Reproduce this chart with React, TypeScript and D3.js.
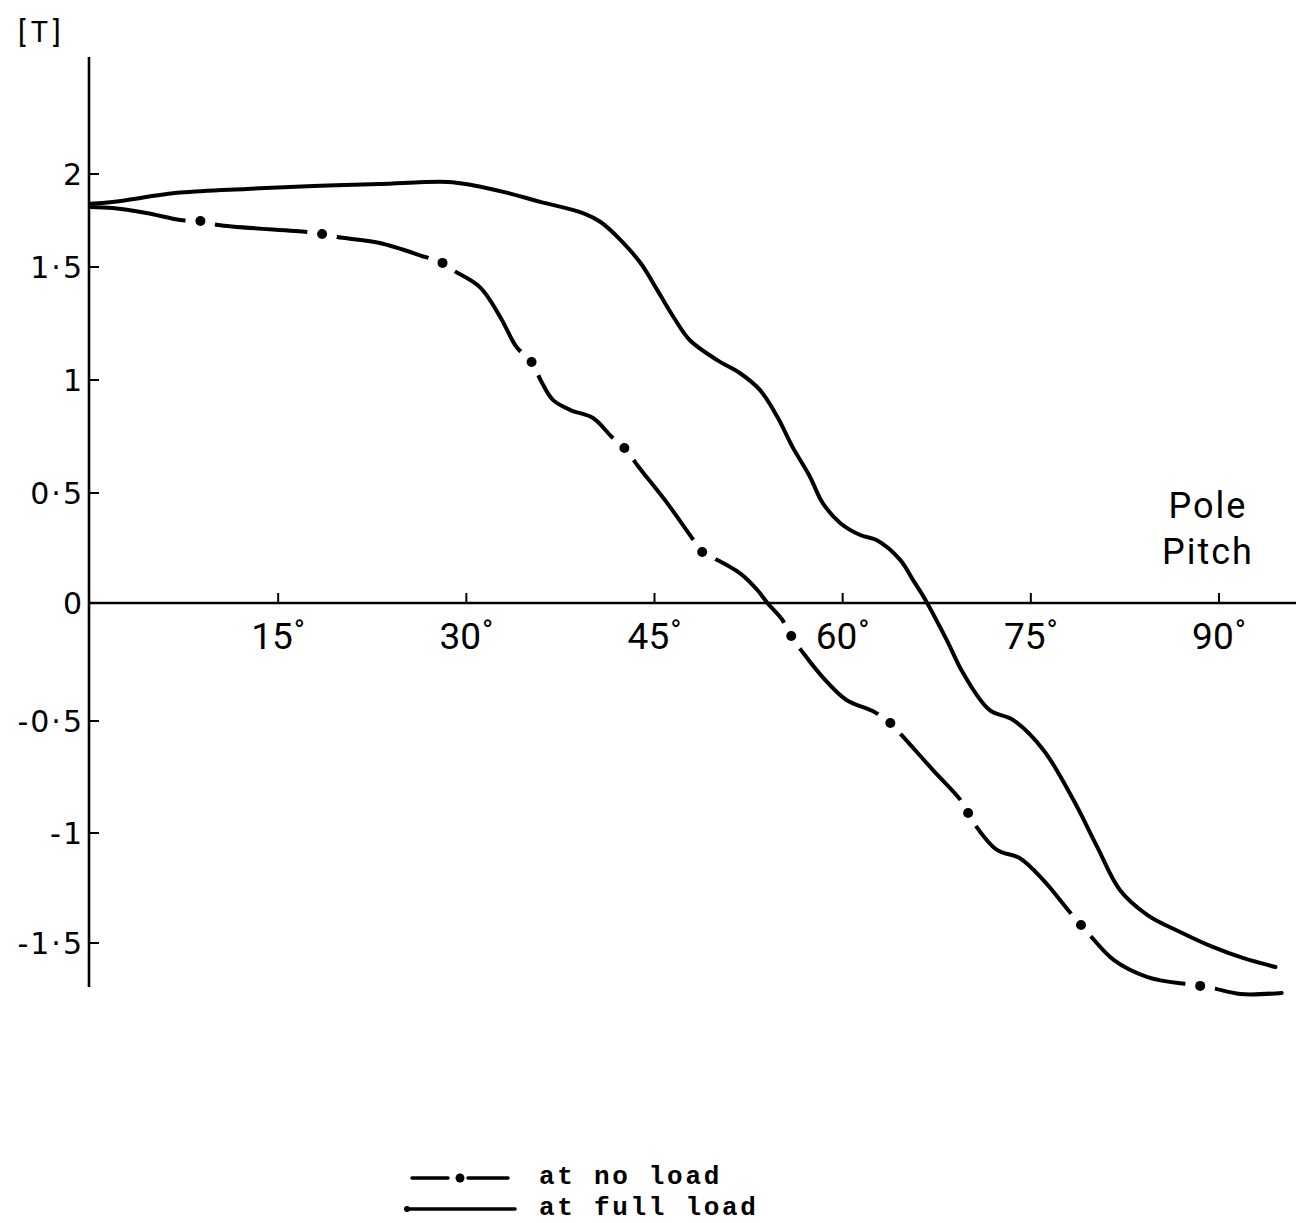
import React, { useEffect, useRef } from "react";
import * as d3 from "d3";

// flux density [T] along the pole pitch [deg]
const fullLoadDeg = [0, 1.8, 7.2, 12.5, 17.8, 23.1, 28.5, 30.5, 33.2, 35.9, 39.3, 40.7, 42.3, 43.9, 45.2, 46.5, 47.8, 50.0, 51.8, 53.4, 54.8, 56.0, 57.4, 58.4, 59.8, 61.4, 62.7, 64.6, 65.6, 66.6, 68.3, 69.6, 71.7, 73.6, 76.0, 78.4, 80.3, 82.1, 84.3, 86.9, 89.5, 91.9, 94.5];
const fullLoadT = [1.84, 1.85, 1.9, 1.92, 1.935, 1.946, 1.957, 1.94, 1.9, 1.85, 1.79, 1.742, 1.645, 1.52, 1.4, 1.28, 1.177, 1.088, 1.031, 0.956, 0.836, 0.704, 0.571, 0.455, 0.364, 0.309, 0.286, 0.195, 0.105, 0.014, -0.157, -0.297, -0.453, -0.496, -0.629, -0.853, -1.064, -1.259, -1.373, -1.45, -1.518, -1.568, -1.609];

const noLoadDeg = [0, 1.8, 4.5, 7.2, 8.8, 10.2, 17.3, 18.5, 19.7, 23.1, 26.7, 28.1, 28.9, 31.1, 32.7, 34.0, 35.2, 36.0, 36.9, 38.3, 40.1, 41.6, 42.6, 43.8, 46.0, 48.0, 48.8, 49.7, 51.8, 53.2, 54.0, 55.2, 55.9, 56.8, 58.4, 60.3, 62.4, 63.8, 64.7, 67.2, 69.4, 70.0, 70.4, 72.3, 74.1, 76.0, 78.1, 79.0, 79.7, 81.6, 84.3, 87.5, 88.5, 89.5, 91.7, 95.0];
const noLoadT = [1.823, 1.817, 1.79, 1.753, 1.747, 1.726, 1.688, 1.677, 1.661, 1.629, 1.554, 1.522, 1.487, 1.41, 1.279, 1.146, 1.08, 0.991, 0.912, 0.867, 0.832, 0.748, 0.699, 0.611, 0.455, 0.295, 0.232, 0.205, 0.136, 0.059, 0, -0.072, -0.14, -0.208, -0.314, -0.411, -0.458, -0.509, -0.563, -0.719, -0.853, -0.911, -0.951, -1.077, -1.114, -1.214, -1.359, -1.418, -1.464, -1.577, -1.655, -1.688, -1.695, -1.705, -1.732, -1.727];

// where the dots of the dash-dot line sit
const noLoadDotDeg = [8.8, 18.5, 28.1, 35.2, 42.6, 48.8, 55.9, 63.8, 70.0, 79.0, 88.5];
const noLoadDotT = [1.747, 1.677, 1.522, 1.08, 0.699, 0.232, -0.14, -0.509, -0.911, -1.418, -1.695];

const yTicks = [-1.5, -1, -0.5, 0, 0.5, 1, 1.5, 2];
const yTickLabels = ["-1·5", "-1", "-0·5", "0", "0·5", "1", "1·5", "2"];
const xTicks = [15, 30, 45, 60, 75, 90];
const xTickLabels = ["15", "30", "45", "60", "75", "90"];

const W = 1298;
const H = 1223;

export default function App() {
  const ref = useRef<SVGSVGElement>(null);

  useEffect(() => {
    const svg = d3.select(ref.current);
    svg.selectAll("*").remove();

    const x = d3.scaleLinear().domain([0, 90]).range([90, 1219]);
    // the hand-drawn axis is not evenly spaced, so the scale follows its ticks
    const y = d3.scaleLinear().domain(yTicks).range([943, 833, 721, 603, 493, 380, 267, 174]);

    const axisX = 89;
    const y0 = y(0);

    // axes
    svg.append("line")
      .attr("x1", axisX).attr("x2", axisX)
      .attr("y1", 57).attr("y2", 987)
      .attr("stroke", "#000").attr("stroke-width", 2.6);
    svg.append("line")
      .attr("x1", axisX).attr("x2", 1296)
      .attr("y1", y0).attr("y2", y0)
      .attr("stroke", "#000").attr("stroke-width", 2.6);

    svg.append("g")
      .selectAll("line")
      .data(yTicks)
      .join("line")
      .attr("x1", axisX).attr("x2", axisX + 10)
      .attr("y1", d => y(d)).attr("y2", d => y(d))
      .attr("stroke", "#000").attr("stroke-width", 2);

    svg.append("g")
      .selectAll("text")
      .data(yTicks)
      .join("text")
      .attr("x", 84)
      .attr("y", d => y(d))
      .attr("text-anchor", "end")
      .attr("dominant-baseline", "central")
      .style("font-family", "'DejaVu Sans', sans-serif")
      .style("font-size", "30px")
      .style("letter-spacing", "2px")
      .text((d, i) => yTickLabels[i]);

    svg.append("g")
      .selectAll("line")
      .data(xTicks)
      .join("line")
      .attr("x1", d => x(d)).attr("x2", d => x(d))
      .attr("y1", y0).attr("y2", y0 - 10)
      .attr("stroke", "#000").attr("stroke-width", 2);

    const xl = svg.append("g")
      .selectAll("text")
      .data(xTicks)
      .join("text")
      .attr("x", d => x(d))
      .attr("y", y0 + 46)
      .attr("text-anchor", "middle")
      .style("font-family", "Roboto, sans-serif")
      .style("font-size", "37px");
    xl.append("tspan").text((d, i) => xTickLabels[i]);
    xl.append("tspan")
      .attr("dy", -8)
      .attr("dx", 1)
      .style("font-size", "30px")
      .text("°");

    svg.append("text")
      .attr("x", 18).attr("y", 42)
      .style("font-family", "Roboto, sans-serif")
      .style("font-size", "29px")
      .style("letter-spacing", "5px")
      .text("[T]");

    const pp = svg.append("text")
      .attr("text-anchor", "middle")
      .style("font-family", "Roboto, sans-serif")
      .style("font-size", "36px")
      .style("letter-spacing", "2px");
    pp.append("tspan").attr("x", 1208).attr("y", 518).text("Pole");
    pp.append("tspan").attr("x", 1208).attr("y", 564).text("Pitch");

    const line = d3.line<[number, number]>()
      .x(d => x(d[0]))
      .y(d => y(d[1]))
      .curve(d3.curveCatmullRom.alpha(0.5));

    const full = fullLoadDeg.map((d, i) => [d, fullLoadT[i]] as [number, number]);
    const noLoad = noLoadDeg.map((d, i) => [d, noLoadT[i]] as [number, number]);
    const dots = noLoadDotDeg.map((d, i) => [d, noLoadDotT[i]] as [number, number]);

    // gaps around every dot of the dash-dot curve
    const mask = svg.append("defs")
      .append("mask")
      .attr("id", "dotGaps")
      .attr("maskUnits", "userSpaceOnUse")
      .attr("x", 0).attr("y", 0).attr("width", W).attr("height", H);
    mask.append("rect").attr("width", W).attr("height", H).attr("fill", "#fff");
    mask.selectAll("circle")
      .data(dots)
      .join("circle")
      .attr("cx", d => x(d[0]))
      .attr("cy", d => y(d[1]))
      .attr("r", 15)
      .attr("fill", "#000");

    svg.append("path")
      .attr("d", line(full))
      .attr("fill", "none")
      .attr("stroke", "#000")
      .attr("stroke-width", 4)
      .attr("stroke-linecap", "round");

    svg.append("path")
      .attr("d", line(noLoad))
      .attr("fill", "none")
      .attr("stroke", "#000")
      .attr("stroke-width", 4)
      .attr("stroke-linecap", "round")
      .attr("mask", "url(#dotGaps)");

    svg.append("g")
      .selectAll("circle")
      .data(dots)
      .join("circle")
      .attr("cx", d => x(d[0]))
      .attr("cy", d => y(d[1]))
      .attr("r", 5)
      .attr("fill", "#000");

    // legend
    const lg = svg.append("g");
    lg.append("line").attr("x1", 412).attr("x2", 448).attr("y1", 1178).attr("y2", 1178)
      .attr("stroke", "#000").attr("stroke-width", 3.5).attr("stroke-linecap", "round");
    lg.append("circle").attr("cx", 460).attr("cy", 1178).attr("r", 4.5);
    lg.append("line").attr("x1", 468).attr("x2", 508).attr("y1", 1178).attr("y2", 1178)
      .attr("stroke", "#000").attr("stroke-width", 3.5).attr("stroke-linecap", "round");
    lg.append("line").attr("x1", 407).attr("x2", 515).attr("y1", 1209).attr("y2", 1209)
      .attr("stroke", "#000").attr("stroke-width", 3.5).attr("stroke-linecap", "round");
    lg.append("circle").attr("cx", 407).attr("cy", 1209).attr("r", 3);

    lg.selectAll("text")
      .data(["at no load", "at full load"])
      .join("text")
      .attr("x", 539)
      .attr("y", (d, i) => 1184 + i * 31)
      .style("font-family", "'Liberation Mono', monospace")
      .style("font-size", "26px")
      .style("font-weight", "bold")
      .style("letter-spacing", "2.7px")
      .text(d => d);
  }, []);

  return (
    <svg
      ref={ref}
      width={W}
      height={H}
      style={{ position: "absolute", left: 0, top: 0, background: "#fff" }}
    />
  );
}
